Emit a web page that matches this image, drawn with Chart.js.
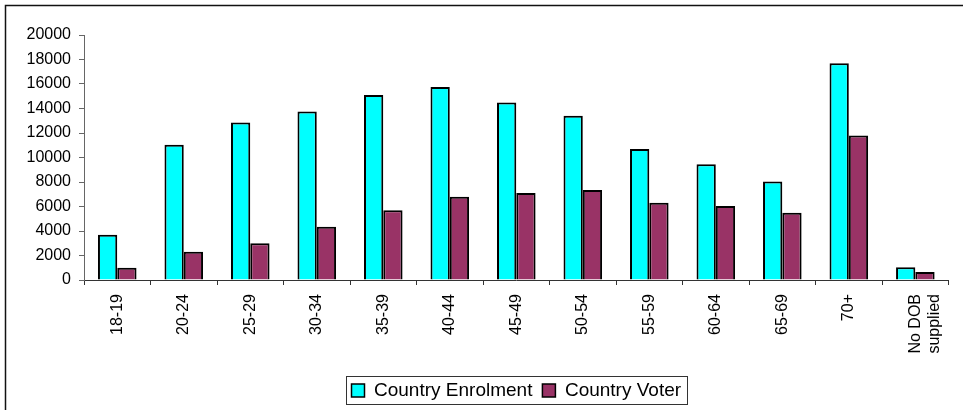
<!doctype html>
<html>
<head>
<meta charset="utf-8">
<title>Country Enrolment vs Country Voter</title>
<script src="https://cdn.jsdelivr.net/npm/chart.js"></script>
<style>
  html, body { margin: 0; padding: 0; background: #fff; }
  #wrap { width: 963px; height: 410px; }
</style>
</head>
<body>
<div id="wrap"><canvas id="chart" width="963" height="410"></canvas></div>
<script>
  // age groups
  const ageGroups = ['18-19', '20-24', '25-29', '30-34', '35-39', '40-44', '45-49',
    '50-54', '55-59', '60-64', '65-69', '70+', ['No DOB', 'supplied']];
  const enrolment = [3700, 11050, 12850, 13750, 15100, 15750, 14500, 13400, 10700, 9450, 8050, 17700, 1050];
  const voter = [1000, 2300, 3000, 4350, 5700, 6800, 7100, 7350, 6300, 6050, 5500, 11800, 650];
  const yTicks = [0, 2000, 4000, 6000, 8000, 10000, 12000, 14000, 16000, 18000, 20000];

  const FONT = "'Liberation Sans', Arial, sans-serif";

  // frame around the chart (left + top edge only are visible)
  const framePlugin = {
    id: 'frame',
    beforeDraw(chart) {
      const ctx = chart.ctx;
      ctx.save();
      ctx.strokeStyle = '#111';
      ctx.lineWidth = 1.5;
      ctx.beginPath();
      ctx.moveTo(5.5, chart.height);
      ctx.lineTo(5.5, 5.5);
      ctx.lineTo(chart.width, 5.5);
      ctx.stroke();
      ctx.restore();
    }
  };

  // legend centred under the plot area, with a box round it
  const legendBox = {
    id: 'legendBox',
    afterLayout(chart) {
      chart.legend.left = chart.chartArea.left;
      chart.legend.right = chart.chartArea.right;
    },
    afterDraw(chart) {
      const boxes = chart.legend.legendHitBoxes;
      if (!boxes || !boxes.length) return;
      let l = Infinity, r = -Infinity, t = Infinity, b = -Infinity;
      boxes.forEach(h => {
        l = Math.min(l, h.left); r = Math.max(r, h.left + h.width);
        t = Math.min(t, h.top); b = Math.max(b, h.top + h.height);
      });
      const ctx = chart.ctx;
      ctx.save();
      ctx.strokeStyle = '#333';
      ctx.lineWidth = 1;
      ctx.strokeRect(Math.round(l - 6) + 0.5, Math.round(t - 5) + 0.5, Math.round(r - l + 11), Math.round(b - t + 9));
      ctx.restore();
    }
  };

  new Chart(document.getElementById('chart'), {
    type: 'bar',
    data: {
      labels: ageGroups,
      datasets: [
        {
          label: 'Country Enrolment',
          data: enrolment,
          backgroundColor: '#00FFFF',
          borderColor: '#000',
          borderWidth: 2,
          categoryPercentage: 0.58,
          barPercentage: 1.0
        },
        {
          label: 'Country Voter',
          data: voter,
          backgroundColor: '#993366',
          borderColor: '#000',
          borderWidth: 2,
          categoryPercentage: 0.58,
          barPercentage: 1.0
        }
      ]
    },
    options: {
      responsive: false,
      animation: false,
      layout: { padding: { top: 35, right: 7, left: 0, bottom: 0 } },
      scales: {
        x: {
          grid: { drawOnChartArea: false, drawTicks: true, tickLength: 5, color: '#333', offset: true },
          border: { color: '#333', width: 1 },
          ticks: {
            minRotation: 90, maxRotation: 90, autoSkip: false, padding: 9,
            color: '#000', font: { family: FONT, size: 16 }
          },
          afterFit(scale) { scale.height = 91; }
        },
        y: {
          min: 0, max: 20000,
          afterBuildTicks(scale) { scale.ticks = yTicks.map(v => ({ value: v })); },
          grid: { drawOnChartArea: false, drawTicks: true, tickLength: 5, color: '#666' },
          border: { color: '#666', width: 1 },
          ticks: {
            padding: 8, color: '#000', font: { family: FONT, size: 16 },
            callback: v => String(v)
          },
          afterFit(scale) { scale.width = 84; }
        }
      },
      plugins: {
        tooltip: { enabled: false },
        legend: {
          position: 'bottom',
          labels: {
            boxWidth: 13, boxHeight: 13, padding: 10,
            color: '#000', font: { family: FONT, size: 19 },
            generateLabels(chart) {
              const items = Chart.defaults.plugins.legend.labels.generateLabels(chart);
              items.forEach(i => { i.lineWidth = 1.5; });
              return items;
            }
          }
        }
      }
    },
    plugins: [framePlugin, legendBox]
  });
</script>
</body>
</html>
